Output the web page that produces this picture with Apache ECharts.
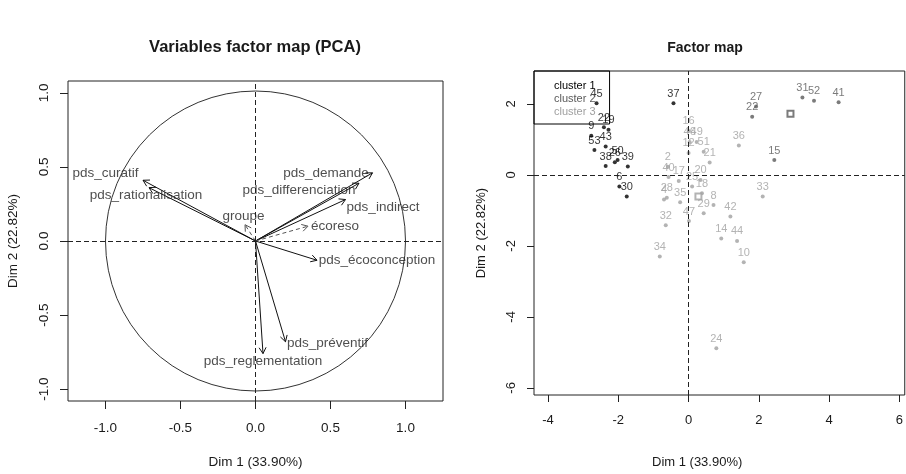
<!DOCTYPE html>
<html>
<head>
<meta charset="utf-8">
<script src="https://cdn.jsdelivr.net/npm/echarts@6/dist/echarts.min.js"></script>
<style>
  html, body { margin: 0; background: #fff; }
  #chart { width: 906px; height: 474px; }
</style>
</head>
<body>
<div id="chart"></div>
<script>
// --- variables factor map (left) ---
const varNames = ["pds_curatif", "pds_rationalisation", "pds_demande", "pds_differenciation",
  "pds_indirect", "écoreso", "groupe", "pds_écoconception", "pds_préventif", "pds_reglementation"];
const varX = [-0.75, -0.71, 0.78, 0.69, 0.60, 0.35, -0.07, 0.41, 0.20, 0.05];
const varY = [0.41, 0.36, 0.46, 0.39, 0.28, 0.10, 0.11, -0.13, -0.68, -0.76];
// supplementary variables are drawn dashed
const varSupp = [0, 0, 0, 0, 0, 1, 1, 0, 0, 0];
const varLabelX = [-1.00, -0.73, 0.47, 0.29, 0.85, 0.53, -0.08, 0.81, 0.48, 0.05];
const varLabelY = [0.46, 0.31, 0.46, 0.34, 0.23, 0.10, 0.17, -0.13, -0.69, -0.81];
const pcaTicks = [-1.0, -0.5, 0.0, 0.5, 1.0];

// --- individuals factor map (right) ---
const c1Names = ["45", "22", "19", "9", "53", "43", "38", "26", "50", "39", "6", "30", "37"];
const c1X = [-2.62, -2.41, -2.28, -2.77, -2.68, -2.36, -2.36, -2.10, -2.02, -1.73, -1.97, -1.76, -0.43];
const c1Y = [2.02, 1.34, 1.27, 1.10, 0.70, 0.80, 0.25, 0.36, 0.42, 0.24, -0.33, -0.61, 2.02];

const c2Names = ["27", "22", "31", "52", "41", "15"];
const c2X = [1.92, 1.81, 3.24, 3.57, 4.27, 2.44];
const c2Y = [1.93, 1.64, 2.18, 2.09, 2.05, 0.42];

const c3Names = ["16", "46", "49", "12", "51", "21", "2", "40", "17", "4", "28", "35", "25", "20",
  "18", "8", "29", "47", "42", "32", "14", "44", "10", "34", "24", "36", "33"];
const c3X = [0.00, 0.03, 0.23, 0.00, 0.43, 0.60, -0.59, -0.57, -0.28, -0.70, -0.62, -0.24, 0.10, 0.34,
  0.38, 0.71, 0.43, 0.01, 1.19, -0.65, 0.93, 1.38, 1.57, -0.82, 0.79, 1.43, 2.11];
const c3Y = [1.24, 0.93, 0.93, 0.62, 0.65, 0.35, 0.23, -0.06, -0.17, -0.69, -0.64, -0.77, -0.33, -0.14,
  -0.52, -0.85, -1.08, -1.30, -1.17, -1.42, -1.79, -1.86, -2.46, -2.30, -4.88, 0.83, -0.61];

const centerX = [2.90, 0.28];
const centerY = [1.72, -0.61];
const indXTicks = [-4, -2, 0, 2, 4, 6];
const indYTicks = [-6, -4, -2, 0, 2];

const FONT = "'Liberation Sans', Arial, sans-serif";
const INK = "#1a1a1a";
const C1 = "#000000", C2 = "#5a5a5a", C3 = "#a0a0a0";

const zip3 = (xs, ys, ns) => xs.map((x, i) => [x, ys[i], ns[i]]);

const chart = echarts.init(document.getElementById("chart"), null, { renderer: "canvas" });

// R-like axis: no axis line (box drawn by grid), outward ticks, rotated y labels
function rAxis(min, max, ticks, gridIndex, isY, name, opts) {
  return {
    type: "value",
    gridIndex,
    min, max,
    name,
    nameLocation: "middle",
    nameGap: opts.nameGap,
    nameTextStyle: { color: INK, fontSize: opts.nameSize, fontFamily: FONT },
    axisLine: { show: false, onZero: false },
    splitLine: { show: false },
    axisTick: { show: true, inside: false, length: opts.tickLen, customValues: ticks,
      lineStyle: { color: "#222", width: 1 } },
    axisLabel: {
      customValues: ticks,
      rotate: isY ? 90 : 0,
      margin: opts.margin,
      color: INK,
      fontSize: opts.labelSize,
      fontFamily: FONT,
      formatter: opts.fmt,
    },
  };
}

const zeroLines = {
  silent: true,
  symbol: "none",
  label: { show: false },
  lineStyle: { type: [5, 3], color: "#222", width: 1 },
  data: [{ xAxis: 0 }, { yAxis: 0 }],
};

const option = {
  animation: false,
  backgroundColor: "#fff",
  textStyle: { fontFamily: FONT },
  title: [
    { text: "Variables factor map (PCA)", left: 255, top: 39, padding: 0, textAlign: "center",
      textStyle: { fontSize: 16.5, fontWeight: "bold", color: INK, fontFamily: FONT } },
    { text: "Factor map", left: 705, top: 41, padding: 0, textAlign: "center",
      textStyle: { fontSize: 14, fontWeight: "bold", color: INK, fontFamily: FONT } },
  ],
  graphic: [
    { type: "text", left: 652, top: 456, silent: true,
      style: { text: "Dim 1 (33.90%)", fontSize: 13, fontFamily: FONT, fill: INK } },
  ],
  legend: {
    left: 534, top: 71,
    orient: "vertical",
    selectedMode: false,
    backgroundColor: "transparent",
    borderColor: "#000", borderWidth: 1, borderRadius: 0,
    padding: [9, 14, 7, 15],
    itemWidth: 0, itemHeight: 11, itemGap: 2,
    textStyle: { fontSize: 11, fontFamily: FONT },
    data: [
      { name: "cluster 1", textStyle: { color: C1 } },
      { name: "cluster 2", textStyle: { color: C2 } },
      { name: "cluster 3", textStyle: { color: C3 } },
    ],
  },
  grid: [
    { left: 68, top: 81, width: 375, height: 324, show: true, borderColor: "#222", borderWidth: 1,
      backgroundColor: "transparent" },
    { left: 534, top: 71, width: 372, height: 324, show: true, borderColor: "#222", borderWidth: 1,
      backgroundColor: "transparent" },
  ],
  xAxis: [
    rAxis(-1.25, 1.25, pcaTicks, 0, false, "Dim 1 (33.90%)",
      { nameGap: 54, nameSize: 13.5, tickLen: 8, margin: 20, labelSize: 13.5, fmt: (v) => v.toFixed(1) }),
    rAxis(-4.4, 6.153, indXTicks, 1, false, "",
      { nameGap: 50, nameSize: 13, tickLen: 7, margin: 19, labelSize: 13, fmt: (v) => String(v) }),
  ],
  yAxis: [
    rAxis(-1.08, 1.08, pcaTicks, 0, true, "Dim 2 (22.82%)",
      { nameGap: 48, nameSize: 13.5, tickLen: 8, margin: 17, labelSize: 13.5, fmt: (v) => v.toFixed(1) }),
    rAxis(-6.2, 2.927, indYTicks, 1, true, "Dim 2 (22.82%)",
      { nameGap: 46, nameSize: 13, tickLen: 7, margin: 16, labelSize: 13, fmt: (v) => String(v) }),
  ],
  series: [
    // correlation circle
    {
      type: "custom",
      xAxisIndex: 0, yAxisIndex: 0,
      silent: true,
      data: [[0, 0, 1]],
      renderItem: (params, api) => {
        const c = api.coord([api.value(0), api.value(1)]);
        const r = api.size([api.value(2), 0])[0];
        return { type: "circle", shape: { cx: c[0], cy: c[1], r },
          style: { fill: null, stroke: "#333", lineWidth: 1 } };
      },
      markLine: zeroLines,
    },
    // variable arrows
    {
      type: "custom",
      xAxisIndex: 0, yAxisIndex: 0,
      silent: true,
      data: varX.map((x, i) => [x, varY[i], varSupp[i]]),
      renderItem: (params, api) => {
        const p0 = api.coord([0, 0]);
        const p1 = api.coord([api.value(0), api.value(1)]);
        const dashed = api.value(2) === 1;
        const ang = Math.atan2(p1[1] - p0[1], p1[0] - p0[0]);
        const L = 7, a = Math.PI / 6;
        const h1 = [p1[0] - L * Math.cos(ang - a), p1[1] - L * Math.sin(ang - a)];
        const h2 = [p1[0] - L * Math.cos(ang + a), p1[1] - L * Math.sin(ang + a)];
        const col = dashed ? "#555" : "#111";
        return {
          type: "group",
          children: [
            { type: "line", shape: { x1: p0[0], y1: p0[1], x2: p1[0], y2: p1[1] },
              style: { stroke: col, lineWidth: 1, lineDash: dashed ? [4, 3] : null } },
            { type: "polyline", shape: { points: [h1, p1, h2] },
              style: { stroke: col, lineWidth: 1, fill: null } },
          ],
        };
      },
    },
    // variable labels
    {
      type: "scatter",
      xAxisIndex: 0, yAxisIndex: 0,
      silent: true,
      symbolSize: 0,
      data: zip3(varLabelX, varLabelY, varNames),
      label: {
        show: true, position: "inside",
        formatter: (p) => p.value[2],
        color: "#222", fontSize: 13.5, fontFamily: FONT,
      },
    },
    // individuals
    {
      name: "cluster 1", type: "scatter", xAxisIndex: 1, yAxisIndex: 1,
      symbol: "circle", symbolSize: 4, itemStyle: { color: C1 },
      data: zip3(c1X, c1Y, c1Names),
      label: { show: true, position: "top", distance: 2, formatter: (p) => p.value[2],
        color: C1, fontSize: 11, fontFamily: FONT },
      markLine: zeroLines,
    },
    {
      name: "cluster 2", type: "scatter", xAxisIndex: 1, yAxisIndex: 1,
      symbol: "circle", symbolSize: 4, itemStyle: { color: C2 },
      data: zip3(c2X, c2Y, c2Names),
      label: { show: true, position: "top", distance: 2, formatter: (p) => p.value[2],
        color: C2, fontSize: 11, fontFamily: FONT },
    },
    {
      name: "cluster 3", type: "scatter", xAxisIndex: 1, yAxisIndex: 1,
      symbol: "circle", symbolSize: 4, itemStyle: { color: C3 },
      data: zip3(c3X, c3Y, c3Names),
      label: { show: true, position: "top", distance: 2, formatter: (p) => p.value[2],
        color: C3, fontSize: 11, fontFamily: FONT },
    },
    // cluster centres
    {
      type: "scatter", xAxisIndex: 1, yAxisIndex: 1,
      symbol: "emptyRect", symbolSize: 6,
      data: centerX.map((x, i) => ({ value: [x, centerY[i]],
        itemStyle: { color: i === 0 ? C2 : C3, borderWidth: 1 } })),
    },
  ],
};

chart.setOption(option);
</script>
</body>
</html>
